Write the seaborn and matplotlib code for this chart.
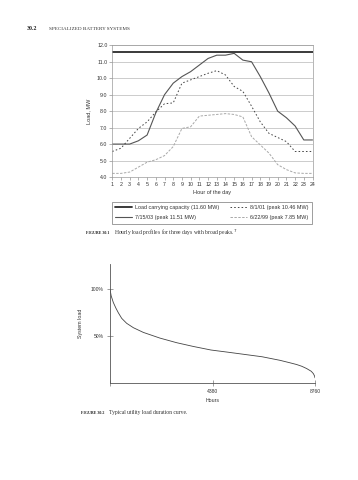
import matplotlib
matplotlib.use("Agg")
import matplotlib.pyplot as plt
import seaborn as sns
import pandas as pd

# ---------- data: Figure 30.1 ----------
hours = list(range(1, 25))
capacity = 11.60
load_071503 = [6.0, 6.0, 6.0, 6.2, 6.55, 7.9, 9.0, 9.7, 10.1, 10.4, 10.8, 11.2,
               11.4, 11.4, 11.51, 11.1, 11.0, 10.1, 9.1, 8.0, 7.6, 7.1, 6.25, 6.25]
load_080101 = [5.55, 5.75, 6.35, 6.95, 7.35, 7.95, 8.45, 8.5, 9.7, 9.9, 10.1, 10.3,
               10.46, 10.2, 9.5, 9.2, 8.3, 7.35, 6.65, 6.4, 6.15, 5.55, 5.55, 5.55]
load_062299 = [4.22, 4.22, 4.3, 4.6, 4.9, 5.05, 5.3, 5.85, 6.95, 7.05, 7.7, 7.75,
               7.8, 7.85, 7.8, 7.65, 6.45, 5.95, 5.45, 4.75, 4.45, 4.25, 4.22, 4.22]
y_ticks_1 = [4.0, 5.0, 6.0, 7.0, 8.0, 9.0, 10.0, 11.0, 12.0]
labels_1 = ["Load carrying capacity (11.60 MW)", "7/15/03 (peak 11.51 MW)",
            "8/1/01 (peak 10.46 MW)", "6/22/99 (peak 7.85 MW)"]

# ---------- data: Figure 30.2 ----------
dur_hours = [0, 50, 141, 250, 355, 500, 712, 1000, 1424, 2137, 2850, 3560, 4316,
             5000, 5841, 6500, 7264, 7700, 7978, 8200, 8405, 8600, 8690, 8740, 8760]
dur_load = [100, 93, 86, 80, 75, 69, 63.7, 59, 54, 47.9, 43, 39, 35.2,
            33, 30.2, 28, 24.2, 21.5, 19.7, 17.8, 15.4, 12.5, 10, 7.5, 5.5]
x_ticks_2 = [0, 4380, 8760]
x_labels_2 = ["", "4380", "8760"]
y_ticks_2 = [50, 100]
y_labels_2 = ["50%", "100%"]

sns.set_theme(style="white")
plt.rcParams["font.family"] = ["Liberation Sans", "DejaVu Sans"]

W, H = 358, 480
fig = plt.figure(figsize=(W / 100, H / 100), dpi=100)
fig.patch.set_facecolor("white")


def px_axes(l, t, r, b):
    return fig.add_axes([l / W, 1 - b / H, (r - l) / W, (b - t) / H])


# ---------------- Figure 30.1 ----------------
ax1 = px_axes(112.3, 45.3, 312.5, 177)
ax1.set_facecolor("white")
for y in y_ticks_1:
    ax1.axhline(y, color="#c4c4c4", lw=0.6, zorder=0)

df1 = pd.DataFrame({"hour": hours, "cap": [capacity] * len(hours),
                    "d03": load_071503, "d01": load_080101, "d99": load_062299})
sns.lineplot(data=df1, x="hour", y="cap", ax=ax1, color="#2b2b2b", lw=1.3,
             label=labels_1[0])
sns.lineplot(data=df1, x="hour", y="d03", ax=ax1, color="#555555", lw=0.8,
             label=labels_1[1])
sns.lineplot(data=df1, x="hour", y="d01", ax=ax1, color="#444444", lw=0.7,
             linestyle=(0, (1.6, 2.2)), label=labels_1[2])
sns.lineplot(data=df1, x="hour", y="d99", ax=ax1, color="#a8a8a8", lw=0.7,
             linestyle=(0, (2.5, 1.5)), label=labels_1[3])

ax1.set_xlim(1, 24)
ax1.set_ylim(4, 12)
ax1.set_xticks(hours)
ax1.set_xticklabels([str(h) for h in hours])
ax1.set_yticks(y_ticks_1)
ax1.set_yticklabels([f"{v:.1f}" for v in y_ticks_1])
ax1.tick_params(axis="both", labelsize=3.8, length=2, width=0.4, color="#777777",
                pad=1.5, labelcolor="#333333", direction="out")
ax1.tick_params(left=True, bottom=True)
for s in ax1.spines.values():
    s.set_color("#9a9a9a")
    s.set_linewidth(0.5)
ax1.set_xlabel("Hour of the day", fontsize=4.0, color="#333333", labelpad=2)
ax1.set_ylabel("Load, MW", fontsize=4.0, color="#333333", labelpad=4)

ax_h = 177 - 45.3
leg = ax1.legend(ncol=2, loc="upper left",
                 bbox_to_anchor=(-0.003, -(201.7 - 177) / ax_h, 1.0, 0.0),
                 mode="expand", fontsize=3.9, frameon=True, fancybox=False,
                 handlelength=3.2, handletextpad=0.5, borderpad=0.6,
                 labelspacing=1.0, columnspacing=2.0, borderaxespad=0)
leg.get_frame().set_edgecolor("#555555")
leg.get_frame().set_linewidth(0.5)
for t in leg.get_texts():
    t.set_color("#333333")

# ---------------- Figure 30.2 ----------------
ax2 = px_axes(110, 264, 315, 383)
ax2.set_facecolor("white")
df2 = pd.DataFrame({"hours": dur_hours, "load": dur_load})
sns.lineplot(data=df2, x="hours", y="load", ax=ax2, color="#444444", lw=0.6)
ax2.set_xlim(0, 8760)
ax2.set_ylim(0, 127)
ax2.set_xticks(x_ticks_2)
ax2.set_xticklabels(x_labels_2)
ax2.set_yticks(y_ticks_2)
ax2.set_yticklabels(y_labels_2)
ax2.tick_params(axis="both", labelsize=3.6, length=4, width=0.4, color="#555555",
                pad=2.5, labelcolor="#333333", direction="inout")
ax2.tick_params(left=True, bottom=True)
for side in ["top", "right"]:
    ax2.spines[side].set_visible(False)
for side in ["left", "bottom"]:
    ax2.spines[side].set_color("#555555")
    ax2.spines[side].set_linewidth(0.6)
ax2.set_xlabel("Hours", fontsize=3.8, color="#333333", labelpad=3)
ax2.set_ylabel("System load", fontsize=3.8, color="#333333", labelpad=6)

# ---------------- page text ----------------
serif = ["Liberation Serif", "DejaVu Serif"]
fig.text(26.5 / W, 1 - 29 / H, "30.2", fontsize=4.2, fontweight="bold",
         family=serif, va="center", ha="left", color="#222222")
fig.text(49 / W, 1 - 29 / H, "SPECIALIZED BATTERY SYSTEMS", fontsize=3.7,
         family=serif, va="center", ha="left", color="#333333")

renderer = fig.canvas.get_renderer()


def caption(x, y, head, body):
    t = fig.text(x / W, 1 - y / H, head, fontsize=2.9, fontweight="bold",
                 family=serif, va="center", ha="left", color="#222222")
    x1 = t.get_window_extent(renderer=renderer).x1
    fig.text((x1 + 5) / W, 1 - y / H, body, fontsize=4.1, family=serif,
             va="center", ha="left", color="#333333")


caption(86, 232.5, "FIGURE 30.1",
        "Hourly load profiles for three days with broad peaks.$^{7}$")
caption(81, 412.5, "FIGURE 30.2", "Typical utility load duration curve.")

fig.savefig("out.png", dpi=100, facecolor="white")
